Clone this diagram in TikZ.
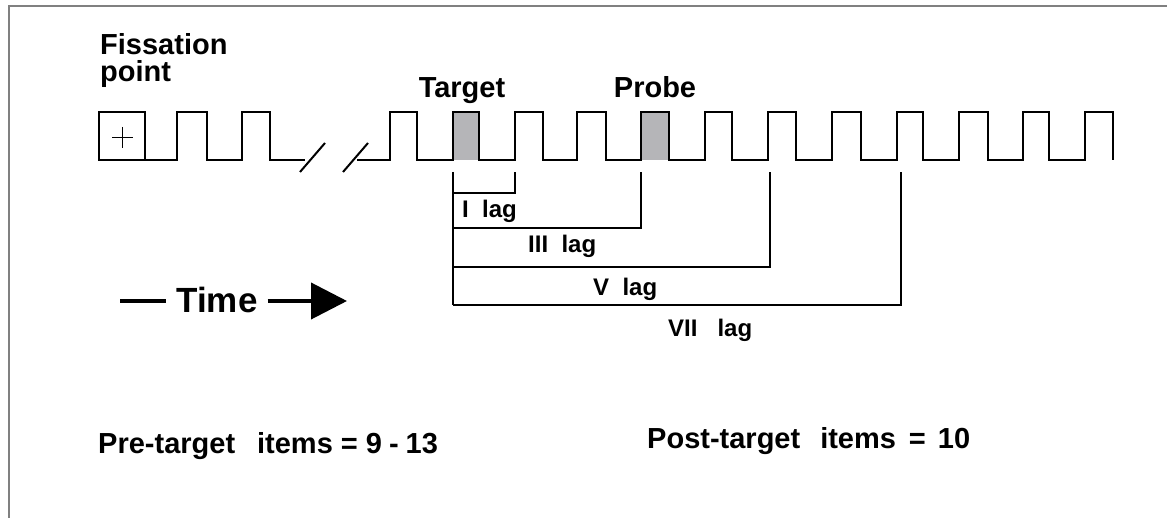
\documentclass[tikz,border=0pt]{standalone}
\usepackage{fontspec}
\setmainfont{Liberation Sans}
\usetikzlibrary{arrows.meta}
\definecolor{framegray}{RGB}{128,128,128}
\definecolor{itemgray}{RGB}{181,181,184}
\begin{document}
\begin{tikzpicture}[x=1pt,y=1pt,yscale=-1,xscale=1,
  wave/.style={line width=2.2pt,line join=miter},
  lagline/.style={line width=2pt,line join=miter},
  lbl/.style={anchor=base west,inner sep=0pt,font=\fontsize{24}{26}\selectfont\bfseries},
  head/.style={inner sep=0pt,font=\fontsize{29}{27}\selectfont\bfseries}]
\useasboundingbox (0,0) rectangle (1167,518);

%Frame (top and left only)
\draw [framegray,line width=2.5pt] (9,518) -- (9,6) -- (1167,6) ;

%Shape: Fissation box
\draw [wave] (99,112) rectangle (145,160) ;
\draw [line width=1pt] (112,137.5) -- (133,137.5) ;
\draw [line width=1pt] (122.5,127) -- (122.5,148) ;

%Shaded items: target and probe
\fill [itemgray] (453,112) rectangle (479,160) ;
\fill [itemgray] (641,112) rectangle (669,160) ;

%Pulse train, before the break
\draw [wave] (145,160) -- (177,160) -- (177,112) -- (207,112) -- (207,160)
  -- (242,160) -- (242,112) -- (270,112) -- (270,160) -- (305,160) ;
%Break marks
\draw [line width=2pt] (300,172) -- (325,143) ;
\draw [line width=2pt] (343,172) -- (368,143) ;
%Pulse train, after the break
\draw [wave] (357,160) -- (390,160) -- (390,112) -- (417,112) -- (417,160)
  -- (453,160) -- (453,112) -- (479,112) -- (479,160)
  -- (515,160) -- (515,112) -- (543,112) -- (543,160)
  -- (577,160) -- (577,112) -- (606,112) -- (606,160)
  -- (641,160) -- (641,112) -- (669,112) -- (669,160)
  -- (705,160) -- (705,112) -- (732,112) -- (732,160)
  -- (768,160) -- (768,112) -- (796,112) -- (796,160)
  -- (832,160) -- (832,112) -- (861,112) -- (861,160)
  -- (897,160) -- (897,112) -- (923,112) -- (923,160)
  -- (959,160) -- (959,112) -- (988,112) -- (988,160)
  -- (1023,160) -- (1023,112) -- (1049,112) -- (1049,160)
  -- (1085,160) -- (1085,112) -- (1113,112) -- (1113,160) ;

%Lag brackets
\coordinate (tgt) at (453,172) ;
\coordinate (lagI) at (515,172) ;
\coordinate (lagIII) at (641,172) ;
\coordinate (lagV) at (770,172) ;
\coordinate (lagVII) at (901,172) ;
\draw [lagline] (tgt) -- (tgt |- 0,305) ;
\draw [lagline] (tgt |- 0,193) -| (lagI) ;
\draw [lagline] (tgt |- 0,228) -| (lagIII) ;
\draw [lagline] (tgt |- 0,267) -| (lagV) ;
\draw [lagline] (tgt |- 0,305) -| (lagVII) ;

% Text Node
\draw (462,218) node [lbl] (labI) {I\ \ lag};
% Text Node
\draw (528,253) node [lbl] (labIII) {III\ \ lag};
% Text Node
\draw (593,296) node [lbl] (labV) {V\ \ lag};
% Text Node
\draw (668,337) node [lbl] (labVII) {VII\ \ \ lag};

% Text Node
\draw (100,55) node [head,anchor=base west] (fiss) {Fissation};
% Text Node
\draw (100,82) node [head,anchor=base west] (fisspt) {point};
% Text Node
\draw (462,98) node [head,anchor=base] (target) {Target};
% Text Node
\draw (655,98) node [head,anchor=base] (probe) {Probe};

% Text Node
\draw (217,313) node [anchor=base,font=\fontsize{35}{38}\selectfont\bfseries,inner sep=10pt] (time) {Time};
\coordinate (tstart) at (120,301) ;
\coordinate (tend) at (347,301) ;
\draw [line width=4pt] (tstart) -- (tstart -| time.west) ;
\draw [line width=4pt,-{Triangle[length=36pt,width=36pt]}] (time.east |- tstart) -- (tend) ;

% Text Node
\draw (98,453) node [head,anchor=base west] (pre) {Pre-target\hspace{22pt}items = 9\hspace{7pt}-\hspace{7pt}13};
% Text Node
\draw (647,448) node [head,anchor=base west] (post) {Post-target\hspace{20pt}items\hspace{13pt}=\hspace{12pt}10};

\end{tikzpicture}
\end{document}
